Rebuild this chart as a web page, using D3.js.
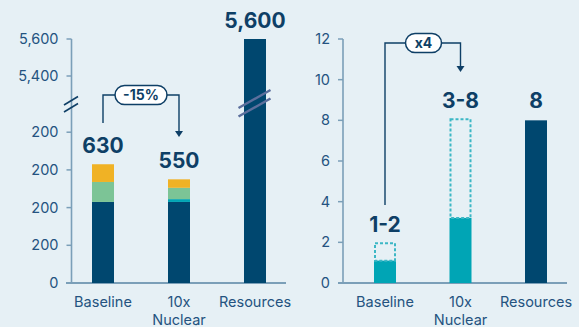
<!DOCTYPE html>
<html><head><meta charset="utf-8">
<script src="https://cdn.jsdelivr.net/npm/d3@7"></script>
<style>
html,body{margin:0;padding:0;background:#e6f0f5;}
svg{display:block;font-family:Inter,"Noto Sans",sans-serif;}
</style></head>
<body><svg id="c" width="579" height="327"></svg>
<script>
// ---- data ----
const categories = ["Baseline", "10x Nuclear", "Resources"];
const leftNavy   = [430, 430, 5600];
const leftTeal   = [0, 15, 0];
const leftGreen  = [106, 60, 0];
const leftYellow = [94, 45, 0];
const leftLabels = ["630", "550", "5,600"];
const leftTickValues = [0, 200, 400, 600, 800, 5400, 5600];
const leftTickLabels = ["0", "200", "200", "200", "200", "5,400", "5,600"];

const rightSolid  = [1.1, 3.2, 8];
const rightDashed = [2, 8.1, null];
const rightLabels = ["1-2", "3-8", "8"];
const rightTickValues = [0, 2, 4, 6, 8, 10, 12];

const C = {navy:"#00476f", teal:"#00a5b5", green:"#7cc496", yellow:"#f0b225",
           axis:"#7b9fb8", text:"#245380", label:"#0e3f66", dash:"#3cb7c5", brk:"#5c6f9c"};

const svg = d3.select("#c");

function catLabel(g, x, cats) {
  cats.forEach(c => {
    const parts = c === "10x Nuclear" ? ["10x", "Nuclear"] : [c];
    const t = g.append("text").attr("x", x(c) + x.bandwidth()/2).attr("y", 307)
      .attr("text-anchor", "middle").attr("fill", C.text).attr("font-size", 14.5);
    parts.forEach((p, i) => t.append("tspan").attr("x", x(c) + x.bandwidth()/2).attr("dy", i ? 18 : 0).text(p));
  });
}

function drawYAxis(g, y, x0, vals, labels) {
  g.append("line").attr("x1", x0).attr("x2", x0).attr("y1", y(d3.max(vals))).attr("y2", y(0))
    .attr("stroke", C.axis).attr("stroke-width", 1.6);
  vals.forEach((v, i) => {
    g.append("line").attr("x1", x0 - 5).attr("x2", x0).attr("y1", y(v)).attr("y2", y(v))
      .attr("stroke", C.axis).attr("stroke-width", 1.5);
    g.append("text").attr("x", x0 - 13).attr("y", y(v)).attr("dy", "0.35em")
      .attr("text-anchor", "end").attr("fill", C.text).attr("font-size", 14.5).text(labels[i]);
  });
}

function pill(g, cx, cy, w, txt) {
  g.append("rect").attr("x", cx - w/2).attr("y", cy - 9.5).attr("width", w).attr("height", 19)
    .attr("rx", 9.5).attr("fill", "#fff").attr("stroke", C.label).attr("stroke-width", 1.5);
  g.append("text").attr("x", cx).attr("y", cy).attr("dy", "0.36em").attr("text-anchor", "middle")
    .attr("fill", C.label).attr("font-weight", 700).attr("font-size", 14).text(txt);
}

function arrow(g, x1, y1, ytop, x2, y2) {
  g.append("path").attr("d", `M${x1},${y1}V${ytop}H${x2}V${y2 - 5}`)
    .attr("fill", "none").attr("stroke", C.label).attr("stroke-width", 1.4);
  g.append("path").attr("d", `M${x2 - 4},${y2 - 6}L${x2 + 4},${y2 - 6}L${x2},${y2}Z`).attr("fill", C.label);
}

// ---- left chart ----
const L = svg.append("g");
const xL = d3.scaleBand().domain(categories).range([65, 293]).paddingInner(54/76).paddingOuter(27/76);
const yL = d3.scaleLinear().domain([0, 800, 5400, 5600]).range([283, 132.2, 76, 39]);

drawYAxis(L, yL, 71.5, leftTickValues, leftTickLabels);
L.append("line").attr("x1", 66).attr("x2", 286).attr("y1", yL(0)).attr("y2", yL(0))
  .attr("stroke", C.axis).attr("stroke-width", 2);

const stacks = [leftNavy, leftTeal, leftGreen, leftYellow];
const stackColors = [C.navy, C.teal, C.green, C.yellow];
categories.forEach((c, i) => {
  let base = 0;
  stacks.forEach((s, k) => {
    const v = s[i];
    if (v > 0) {
      L.append("rect").attr("x", xL(c)).attr("width", xL.bandwidth())
        .attr("y", yL(base + v)).attr("height", yL(base) - yL(base + v)).attr("fill", stackColors[k]);
    }
    base += v;
  });
  L.append("text").attr("x", xL(c) + xL.bandwidth()/2).attr("y", yL(base) - 11)
    .attr("text-anchor", "middle").attr("fill", C.label).attr("font-weight", 700)
    .attr("font-size", 21).text(leftLabels[i]);
});

// axis break marks
[0, 7].forEach(o => L.append("line").attr("x1", 64).attr("y1", 105 + o).attr("x2", 78).attr("y2", 96.5 + o)
  .attr("stroke", C.label).attr("stroke-width", 1.6));
// bar break marks
[0, 8.5].forEach(o => L.append("line").attr("x1", 238.5).attr("y1", 108 + o).attr("x2", 270.5).attr("y2", 90 + o)
  .attr("stroke", C.brk).attr("stroke-width", 2.4));

catLabel(L, xL, categories);
arrow(L, xL("Baseline") + xL.bandwidth()/2, 123, 95, xL("10x Nuclear") + xL.bandwidth()/2, 137);
pill(L, 141, 95, 52, "-15%");

// ---- right chart ----
const R = svg.append("g");
const xR = d3.scaleBand().domain(categories).range([347.25, 573.75]).paddingInner(53.5/75.5).paddingOuter(26.75/75.5);
const yR = d3.scaleLinear().domain([0, 12]).range([283, 39]);

drawYAxis(R, yR, 343, rightTickValues, rightTickValues.map(String));
R.append("line").attr("x1", 338).attr("x2", 567).attr("y1", yR(0)).attr("y2", yR(0))
  .attr("stroke", C.axis).attr("stroke-width", 2);

categories.forEach((c, i) => {
  const col = c === "Resources" ? C.navy : C.teal;
  R.append("rect").attr("x", xR(c)).attr("width", xR.bandwidth())
    .attr("y", yR(rightSolid[i])).attr("height", yR(0) - yR(rightSolid[i])).attr("fill", col);
  let top = rightSolid[i];
  if (rightDashed[i] != null) {
    top = rightDashed[i];
    R.append("rect").attr("x", xR(c) + 1).attr("width", xR.bandwidth() - 2)
      .attr("y", yR(rightDashed[i]) + 1).attr("height", yR(rightSolid[i]) - yR(rightDashed[i]) - 1)
      .attr("fill", "none").attr("stroke", C.dash).attr("stroke-width", 2).attr("stroke-dasharray", "3,2");
  }
  R.append("text").attr("x", xR(c) + xR.bandwidth()/2).attr("y", c === "Resources" ? 108 : yR(top) - 10.5)
    .attr("text-anchor", "middle").attr("fill", C.label).attr("font-weight", 700)
    .attr("font-size", 21).text(rightLabels[i]);
});

catLabel(R, xR, categories);
arrow(R, xR("Baseline") + xR.bandwidth()/2, 205, 43, xR("10x Nuclear") + xR.bandwidth()/2, 72);
pill(R, 423.5, 43, 36, "x4");
</script></body></html>
